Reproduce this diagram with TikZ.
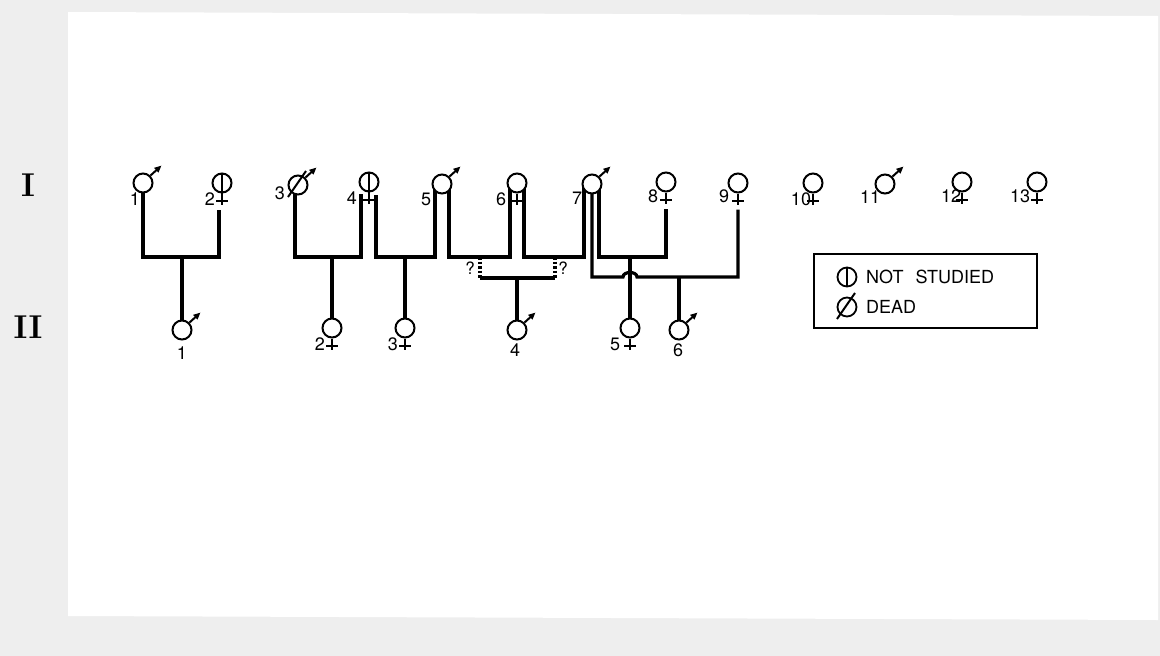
\documentclass[tikz,border=0pt]{standalone}
\usepackage{fontspec}
\setsansfont{TeX Gyre Heros}
\usetikzlibrary{arrows.meta,calc}
\pgfdeclarelayer{cardlayer}
\pgfdeclarelayer{linelayer}
\pgfsetlayers{cardlayer,linelayer,main}
\tikzset{
  person/.style={circle,draw,line width=2pt,minimum size=19pt,inner sep=0pt,fill=white},
  pedline/.style={line width=3.2pt,line cap=butt,line join=miter},
  dashline/.style={line width=3.2pt,dash pattern=on 2.5pt off 2pt},
  symline/.style={line width=2pt},
  numlabel/.style={font=\sffamily\fontsize{18}{18}\selectfont,inner sep=0pt},
  qlabel/.style={font=\sffamily\fontsize{17}{17}\selectfont,inner sep=0pt},
  legtext/.style={font=\sffamily\fontsize{18}{18}\selectfont,inner sep=0pt,anchor=west},
  gen/.style={font=\bfseries\fontsize{33}{33}\selectfont,inner sep=0pt},
}
\newcommand\femcross[1]{%
  \draw[symline] (#1.south) -- ++(0,11);
  \draw[symline] ($(#1.south)+(-6,7)$) -- ++(12,0);}
\newcommand\malearrow[1]{%
  \draw[symline,-{Triangle[length=7pt,width=6pt]}] (#1.45) -- ++(11,-10);}
\newcommand\notstudied[1]{\draw[symline] (#1.north) -- (#1.south);}
\newcommand\deadslash[1]{\draw[symline] ($(#1.center)+(-10,12)$) -- ($(#1.center)+(8,-14)$);}
\begin{document}
\begin{tikzpicture}[x=1pt,y=-1pt]
\useasboundingbox (0,0) rectangle (1160,656);
\begin{pgfonlayer}{cardlayer}
  \fill[gray!13] (0,0) rectangle (1160,656);
  \fill[white] (68,12) -- (1158,16) -- (1158,620) -- (68,616) -- cycle;
\end{pgfonlayer}

% generation labels
\node[gen] (genI) at (28,185) {I};
\node[gen] (genII) at (28,327) {II};

% generation I
\node[person] (i1) at (143,183) {};
\node[person] (i2) at (222,183) {};
\node[person] (i3) at (298,185) {};
\node[person] (i4) at (369,182) {};
\node[person] (i5) at (442,184) {};
\node[person] (i6) at (517,183) {};
\node[person] (i7) at (592,184) {};
\node[person] (i8) at (666,182) {};
\node[person] (i9) at (738,183) {};
\node[person] (i10) at (813,183) {};
\node[person] (i11) at (885,184) {};
\node[person] (i12) at (962,182) {};
\node[person] (i13) at (1037,182) {};

% generation II
\node[person] (ii1) at (182,330) {};
\node[person] (ii2) at (332,328) {};
\node[person] (ii3) at (405,328) {};
\node[person] (ii4) at (517,330) {};
\node[person] (ii5) at (630,328) {};
\node[person] (ii6) at (679,330) {};

% sex symbols
\malearrow{i1}\malearrow{i3}\malearrow{i5}\malearrow{i7}\malearrow{i11}
\malearrow{ii1}\malearrow{ii4}\malearrow{ii6}
\femcross{i2}\femcross{i4}\femcross{i6}\femcross{i8}\femcross{i9}
\femcross{i10}\femcross{i12}\femcross{i13}
\femcross{ii2}\femcross{ii3}\femcross{ii5}
\notstudied{i2}\notstudied{i4}
\deadslash{i3}

% labels generation I
\node[numlabel] (l1) at (135,199) {1};
\node[numlabel] (l2) at (210,199) {2};
\node[numlabel] (l3) at (280,193) {3};
\node[numlabel] (l4) at (352,198) {4};
\node[numlabel] (l5) at (426,199) {5};
\node[numlabel] (l6) at (501,199) {6};
\node[numlabel] (l7) at (577,198) {7};
\node[numlabel] (l8) at (653,196) {8};
\node[numlabel] (l9) at (724,196) {9};
\node[numlabel] (l10) at (801,199) {10};
\node[numlabel] (l11) at (870,197) {11};
\node[numlabel] (l12) at (951,196) {12};
\node[numlabel] (l13) at (1020,196) {13};
% labels generation II
\node[numlabel] (m1) at (182,353) {1};
\node[numlabel] (m2) at (320,344) {2};
\node[numlabel] (m3) at (393,344) {3};
\node[numlabel] (m4) at (515,350) {4};
\node[numlabel] (m5) at (615,344) {5};
\node[numlabel] (m6) at (678,350) {6};

% junction coordinates
\coordinate (i2a) at ($(i2.south)+(-3,16)$);
\coordinate (i3a) at ($(i3.center)+(-3,0)$);
\coordinate (i4l) at ($(i4.center)+(-8,12)$);
\coordinate (i4r) at ($(i4.center)+(7,13)$);
\coordinate (i5l) at ($(i5.center)+(-7,0)$);
\coordinate (i5r) at ($(i5.center)+(7,0)$);
\coordinate (i6l) at ($(i6.center)+(-7,0)$);
\coordinate (i6r) at ($(i6.center)+(7,0)$);
\coordinate (i7l) at ($(i7.center)+(-8,0)$);
\coordinate (i7r) at ($(i7.center)+(7,0)$);
\coordinate (i8a) at ($(i8.south)+(0,16)$);
\coordinate (i9a) at ($(i9.south)+(0,16)$);
\coordinate (mA) at (182,257);
\coordinate (mB) at (332,257);
\coordinate (mC) at (405,257);
\coordinate (qL) at (480,257);
\coordinate (qR) at (555,257);
\coordinate (qLb) at (480,278);
\coordinate (qRb) at (555,278);
\coordinate (mD) at (517,278);
\coordinate (mE) at (630,257);
\coordinate (mF) at (679,277);
\coordinate (hopL) at (623,277);
\coordinate (hopR) at (637,277);

\begin{pgfonlayer}{linelayer}
  \draw[pedline] (i1.center) |- (mA) -| (i2a);
  \draw[pedline] (mA) -- (ii1.north);
  \draw[pedline] (i3a) |- (mB) -| (i4l);
  \draw[pedline] (mB) -- (ii2.north);
  \draw[pedline] (i4r) |- (mC) -| (i5l);
  \draw[pedline] (mC) -- (ii3.north);
  \draw[pedline] (i5r) |- (qL) -| (i6l);
  \draw[pedline] (i6r) |- (qR) -| (i7l);
  \draw[dashline] (qL) -- (qLb);
  \draw[dashline] (qR) -- (qRb);
  \draw[pedline] (qLb) -- (qRb);
  \draw[pedline] (mD) -- (ii4.north);
  \draw[pedline] (i7r) |- (mE) -| (i8a);
  \draw[pedline] (mE) -- (ii5.north);
  \draw[pedline] (i7.center) |- (hopL) .. controls ($(hopL)+(0,-6)$) and ($(hopR)+(0,-6)$) .. (hopR) -| (i9a);
  \draw[pedline] (mF) -- (ii6.north);
\end{pgfonlayer}

\node[qlabel] (q1) at (470,268) {?};
\node[qlabel] (q2) at (563,268) {?};

% legend
\node[draw,line width=2.2pt,minimum width=223pt,minimum height=74pt,inner sep=0pt] (legend) at (925.5,291) {};
\node[person,line width=1.8pt] (lns) at (847,277) {};
\notstudied{lns}
\node[person,line width=1.8pt] (ldd) at (847,307) {};
\deadslash{ldd}
\node[legtext] (tns) at (866,277) {NOT\hspace{0.4em} STUDIED};
\node[legtext] (tdd) at (866,307) {DEAD};
\end{tikzpicture}
\end{document}
